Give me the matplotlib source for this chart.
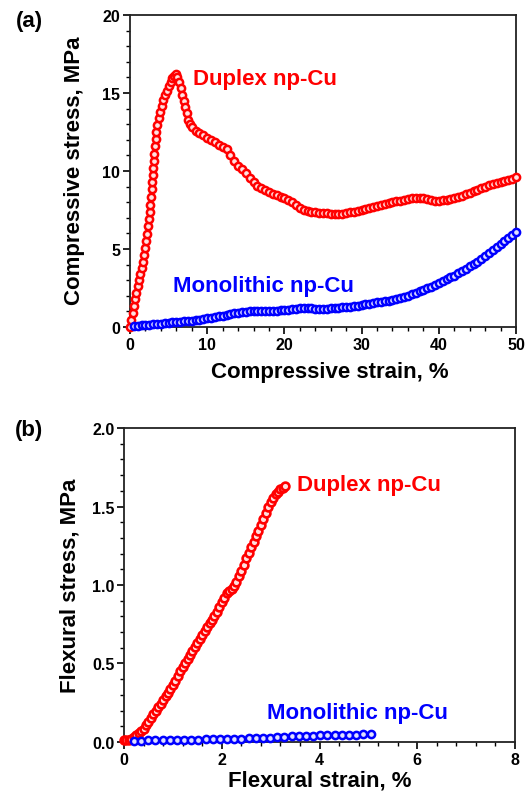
import matplotlib
matplotlib.use("Agg")
import matplotlib.pyplot as plt
from matplotlib.ticker import MultipleLocator, AutoMinorLocator

plt.rcParams['font.family'] = ['Liberation Sans', 'DejaVu Sans']
plt.rcParams['font.weight'] = 'bold'

# (a) compressive test, duplex np-Cu
comp_duplex_x = [0.00, 0.17, 0.33, 0.50, 0.66, 0.83, 1.00, 1.17, 1.33, 1.50, 1.66, 1.80, 1.95,
                 2.08, 2.20, 2.32, 2.43, 2.53, 2.62, 2.71, 2.80, 2.87, 2.94, 3.01, 3.08, 3.16,
                 3.24, 3.33, 3.43, 3.56, 3.72, 3.90, 4.10, 4.32, 4.55, 4.78, 5.02, 5.25, 5.50,
                 5.75, 5.96, 6.15, 6.35, 6.55, 6.75, 6.95, 7.15, 7.35, 7.55, 7.75, 8.0,
                 8.5, 9.0, 9.5, 10.0, 10.5, 11.0, 11.5, 12.0, 12.5, 13.0, 13.5, 14.0, 14.5, 15.0,
                 15.5, 16.0, 16.5, 17.0, 17.5, 18.0, 18.5, 19.0, 19.5, 20.0, 20.5, 21.0, 21.5,
                 22.0, 22.5, 23.0, 23.5, 24.0, 24.5, 25.0, 25.5, 26.0, 26.5, 27.0, 27.5, 28.0,
                 28.5, 29.0, 29.5, 30.0, 30.5, 31.0, 31.5, 32.0, 32.5, 33.0, 33.5, 34.0, 34.5,
                 35.0, 35.5, 36.0, 36.5, 37.0, 37.5, 38.0, 38.5, 39.0, 39.5, 40.0, 40.5, 41.0,
                 41.5, 42.0, 42.5, 43.0, 43.5, 44.0, 44.5, 45.0, 45.5, 46.0, 46.5, 47.0, 47.5,
                 48.0, 48.5, 49.0, 49.5, 50.0]
comp_duplex_y = [0.00, 0.45, 0.90, 1.35, 1.78, 2.20, 2.60, 3.00, 3.40, 3.80, 4.20, 4.60, 5.05,
                 5.50, 5.95, 6.45, 6.90, 7.40, 7.85, 8.35, 8.85, 9.30, 9.75, 10.2, 10.65, 11.1,
                 11.6, 12.05, 12.5, 12.95, 13.4, 13.8, 14.2, 14.55, 14.85, 15.15, 15.45, 15.7, 15.95,
                 16.1, 16.2, 16.0, 15.7, 15.3, 14.9, 14.5, 14.1, 13.7, 13.3, 13.0, 12.8,
                 12.6, 12.45, 12.3, 12.15, 12.0, 11.85, 11.7, 11.55, 11.4, 11.0, 10.65, 10.35, 10.1, 9.85,
                 9.55, 9.3, 9.05, 8.9, 8.8, 8.65, 8.55, 8.45, 8.35, 8.25, 8.15, 8.0, 7.8,
                 7.6, 7.5, 7.45, 7.4, 7.36, 7.33, 7.3, 7.3, 7.27, 7.25, 7.25, 7.27, 7.3,
                 7.35, 7.4, 7.45, 7.5, 7.55, 7.62, 7.7, 7.75, 7.8, 7.87, 7.93, 8.0, 8.05,
                 8.1, 8.15, 8.2, 8.25, 8.3, 8.3, 8.28, 8.22, 8.15, 8.1, 8.1, 8.12, 8.15,
                 8.2, 8.25, 8.32, 8.4, 8.5, 8.6, 8.7, 8.8, 8.9, 9.0, 9.1, 9.15, 9.22,
                 9.3, 9.35, 9.42, 9.5, 9.6]

# (a) compressive test, monolithic np-Cu
comp_mono_x = [0.5, 1.0, 1.5, 2.0, 2.5, 3.0, 3.5, 4.0, 4.5, 5.0, 5.5, 6.0, 6.5, 7.0, 7.5, 8.0,
               8.5, 9.0, 9.5, 10.0, 10.5, 11.0, 11.5, 12.0, 12.5, 13.0, 13.5, 14.0, 14.5, 15.0,
               15.5, 16.0, 16.5, 17.0, 17.5, 18.0, 18.5, 19.0, 19.5, 20.0, 20.5, 21.0, 21.5,
               22.0, 22.5, 23.0, 23.5, 24.0, 24.5, 25.0, 25.5, 26.0, 26.5, 27.0, 27.5, 28.0,
               28.5, 29.0, 29.5, 30.0, 30.5, 31.0, 31.5, 32.0, 32.5, 33.0, 33.5, 34.0, 34.5,
               35.0, 35.5, 36.0, 36.5, 37.0, 37.5, 38.0, 38.5, 39.0, 39.5, 40.0, 40.5, 41.0,
               41.5, 42.0, 42.5, 43.0, 43.5, 44.0, 44.5, 45.0, 45.5, 46.0, 46.5, 47.0, 47.5,
               48.0, 48.5, 49.0, 49.5, 50.0]
comp_mono_y = [0.05, 0.08, 0.10, 0.13, 0.16, 0.18, 0.20, 0.22, 0.24, 0.27, 0.30, 0.32, 0.34, 0.36, 0.38, 0.40,
               0.43, 0.47, 0.52, 0.56, 0.60, 0.64, 0.68, 0.73, 0.77, 0.82, 0.87, 0.91, 0.95, 0.98,
               1.0, 1.0, 1.0, 1.0, 1.0, 1.02, 1.03, 1.05, 1.08, 1.10, 1.12, 1.15, 1.18,
               1.22, 1.25, 1.25, 1.22, 1.18, 1.16, 1.15, 1.17, 1.20, 1.22, 1.24, 1.26, 1.28,
               1.30, 1.33, 1.36, 1.40, 1.45, 1.50, 1.55, 1.58, 1.62, 1.65, 1.70, 1.75, 1.80,
               1.86, 1.93, 2.0, 2.1, 2.18, 2.28, 2.38, 2.48, 2.58, 2.70, 2.80, 2.92, 3.05,
               3.18, 3.30, 3.45, 3.60, 3.75, 3.90, 4.05, 4.20, 4.38, 4.55, 4.73, 4.92, 5.10,
               5.30, 5.50, 5.70, 5.90, 6.10]

# (b) flexural test, duplex np-Cu
flex_duplex_x = [0.00, 0.05, 0.10, 0.15, 0.20, 0.25, 0.30, 0.35, 0.40, 0.45, 0.50, 0.55, 0.60,
                 0.65, 0.70, 0.75, 0.80, 0.85, 0.90, 0.95, 1.00, 1.05, 1.10, 1.15, 1.20, 1.25,
                 1.30, 1.35, 1.40, 1.45, 1.50, 1.55, 1.60, 1.65, 1.70, 1.75, 1.80, 1.85, 1.90,
                 1.95, 2.00, 2.05, 2.10, 2.15, 2.20, 2.25, 2.30, 2.35, 2.40, 2.45, 2.50, 2.55,
                 2.60, 2.65, 2.70, 2.75, 2.80, 2.85, 2.90, 2.95, 3.00, 3.05, 3.10, 3.15, 3.20,
                 3.25, 3.30]
flex_duplex_y = [0.010, 0.012, 0.015, 0.020, 0.030, 0.042, 0.055, 0.070, 0.085, 0.107, 0.130, 0.155, 0.180,
                 0.200, 0.222, 0.245, 0.270, 0.290, 0.312, 0.335, 0.360, 0.390, 0.420, 0.450, 0.480, 0.505,
                 0.530, 0.555, 0.580, 0.605, 0.630, 0.655, 0.680, 0.705, 0.730, 0.755, 0.780, 0.805, 0.830,
                 0.860, 0.890, 0.920, 0.950, 0.963, 0.975, 0.995, 1.020, 1.055, 1.090, 1.130, 1.170, 1.205,
                 1.240, 1.275, 1.310, 1.345, 1.380, 1.420, 1.460, 1.495, 1.530, 1.555, 1.580, 1.595, 1.610,
                 1.620, 1.630]

# (b) flexural test, monolithic np-Cu
flex_mono_x = [0.20, 0.35, 0.50, 0.64, 0.79, 0.94, 1.08, 1.23, 1.38, 1.52, 1.67, 1.82, 1.96, 2.11,
               2.26, 2.40, 2.55, 2.70, 2.84, 2.99, 3.14, 3.28, 3.43, 3.58, 3.72, 3.87, 4.02, 4.16,
               4.31, 4.46, 4.60, 4.75, 4.90, 5.05]
flex_mono_y = [0.008, 0.009, 0.010, 0.010, 0.011, 0.012, 0.012, 0.013, 0.014, 0.015, 0.016, 0.017, 0.019, 0.020,
               0.021, 0.022, 0.024, 0.025, 0.026, 0.028, 0.030, 0.032, 0.035, 0.037, 0.039, 0.041, 0.043, 0.044,
               0.045, 0.046, 0.047, 0.047, 0.048, 0.048]

RED = '#ff0000'
BLUE = '#0000ff'


def style_axes(ax, xmax, ymax, xmajor, ymajor):
    ax.set_xlim(0, xmax)
    ax.set_ylim(0, ymax)
    ax.xaxis.set_major_locator(MultipleLocator(xmajor))
    ax.yaxis.set_major_locator(MultipleLocator(ymajor))
    ax.xaxis.set_minor_locator(AutoMinorLocator(5))
    ax.yaxis.set_minor_locator(AutoMinorLocator(5))
    ax.tick_params(which='major', direction='out', length=5, width=1.2, labelsize=11.5, pad=2)
    ax.tick_params(which='minor', direction='out', length=3, width=1.0)
    for s in ax.spines.values():
        s.set_linewidth(1.3)
        s.set_color('#222222')
    for lab in ax.get_xticklabels() + ax.get_yticklabels():
        lab.set_fontweight('bold')


fig = plt.figure(figsize=(5.3, 8.04), dpi=100)

# ---- (a)
ax1 = fig.add_axes([0.2453, 0.592, 0.7283, 0.388])
ax1.plot(comp_duplex_x, comp_duplex_y, 'o-', color=RED, lw=1.0, ms=5.2,
         mfc='#ffe0e0', mec=RED, mew=1.8, clip_on=False, zorder=3)
ax1.plot(comp_mono_x, comp_mono_y, 'o-', color=BLUE, lw=1.0, ms=5.2,
         mfc='#e0e0ff', mec=BLUE, mew=1.8, clip_on=False, zorder=3)
style_axes(ax1, 50, 20, 10, 5)
ax1.text(8.2, 15.96, 'Duplex np-Cu', color=RED, fontsize=16, fontweight='bold',
         ha='left', va='center')
ax1.text(5.6, 2.69, 'Monolithic np-Cu', color=BLUE, fontsize=16, fontweight='bold',
         ha='left', va='center')
ax1.set_xlabel('Compressive strain, %', fontsize=16, fontweight='bold', va='center')
ax1.xaxis.set_label_coords(0.518, -0.144)
ax1.set_ylabel('Compressive stress, MPa', fontsize=16, fontweight='bold', va='center')
ax1.yaxis.set_label_coords(-0.145, 0.503)

# ---- (b)
ax2 = fig.add_axes([0.234, 0.0759, 0.7377, 0.3905])
ax2.plot(flex_duplex_x, flex_duplex_y, 'o-', color=RED, lw=1.0, ms=5.6,
         mfc='#ffe0e0', mec=RED, mew=1.9, clip_on=False, zorder=3)
ax2.plot(flex_mono_x, flex_mono_y, 'o', color=BLUE, ms=5.2,
         mfc='#e0e0ff', mec=BLUE, mew=1.8, clip_on=False, zorder=3)
style_axes(ax2, 8, 2.0, 2, 0.5)
ax2.yaxis.set_major_formatter(plt.FormatStrFormatter('%.1f'))
ax2.text(3.54, 1.643, 'Duplex np-Cu', color=RED, fontsize=16, fontweight='bold',
         ha='left', va='center')
ax2.text(2.92, 0.189, 'Monolithic np-Cu', color=BLUE, fontsize=16, fontweight='bold',
         ha='left', va='center')
ax2.set_xlabel('Flexural strain, %', fontsize=16, fontweight='bold', va='center')
ax2.xaxis.set_label_coords(0.5, -0.121)
ax2.set_ylabel('Flexural stress, MPa', fontsize=16, fontweight='bold', va='center')
ax2.yaxis.set_label_coords(-0.138, 0.5)

fig.text(29 / 530, 1 - 22 / 804, '(a)', fontsize=16, fontweight='bold', ha='center', va='center')
fig.text(29 / 530, 1 - 431 / 804, '(b)', fontsize=16, fontweight='bold', ha='center', va='center')

fig.savefig('out.png', dpi=100)
